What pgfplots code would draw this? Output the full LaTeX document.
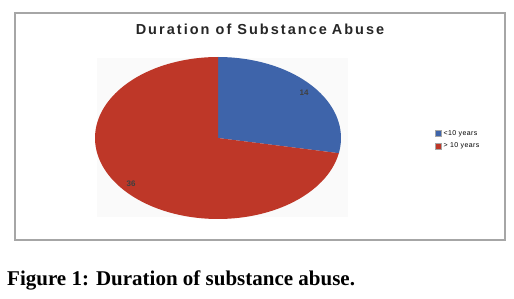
\documentclass[border=0pt]{standalone}
\usepackage{pgfplots}
\pgfplotsset{compat=1.18}
\usepackage{fontspec}
\setmainfont{Liberation Serif}
\newfontfamily\arialf{Liberation Sans}
\newfontfamily\titlef[LetterSpace=14]{Liberation Sans}
\newfontfamily\legf[LetterSpace=6]{Liberation Sans}
\definecolor{pieblue}{HTML}{3E64AA}
\definecolor{piered}{HTML}{BE3728}
\def\va{14}
\def\vb{36}
\pgfmathsetmacro{\tot}{\va+\vb}
\pgfmathsetmacro{\aend}{90-360*\va/\tot}
\pgfmathsetmacro{\bend}{\aend-360*\vb/\tot}
\def\cx{218}\def\cy{138}\def\rx{123}\def\ry{81}
\begin{document}
\begin{tikzpicture}[x=1pt,y=1pt]
\begin{axis}[
  width=514pt, height=299pt, scale only axis,
  xmin=0, xmax=514, ymin=0, ymax=299, y dir=reverse,
  hide axis, clip=false,
  legend style={at={(axis cs:434,127)}, anchor=north west, draw=none, fill=none,
    font=\legf\fontsize{7}{8}\selectfont, row sep=2pt,
    inner sep=1pt},
  legend cell align=left,
  legend image code/.code={\draw[#1, draw=white!65!black] (0pt,-3pt) rectangle (6pt,3pt);},
]
% frame
\draw[gray!70, line width=1.4pt] (axis cs:15,13) rectangle (axis cs:505,240);
% faint plot area
\fill[gray!4] (axis cs:97,58) rectangle (axis cs:348,217);
\addplot[fill=pieblue, draw=none, domain=90:\aend, samples=60]
  ({\cx+\rx*cos(x)},{\cy-\ry*sin(x)}) -- (axis cs:\cx,\cy) -- cycle;
\addlegendentry{<10 years}
\addplot[fill=piered, draw=none, domain=\aend:\bend, samples=120]
  ({\cx+\rx*cos(x)},{\cy-\ry*sin(x)}) -- (axis cs:\cx,\cy) -- cycle;
\addlegendentry{> 10 years}
\node[font=\arialf\bfseries\fontsize{8}{9}\selectfont, text=black!75] at (axis cs:304,93) {\va};
\node[font=\arialf\bfseries\fontsize{8}{9}\selectfont, text=black!75] at (axis cs:131,184) {\vb};
\node[font=\titlef\bfseries\fontsize{14.5}{16}\selectfont, text=black!85] at (axis cs:260,29) {Duration of Substance\,\,Abuse};
\node[font=\bfseries\fontsize{21}{23}\selectfont, anchor=base west, inner sep=0pt] at (axis cs:7,285) {Figure 1: Duration of substance abuse.};
\end{axis}
\pgfresetboundingbox
\path (current axis.south west) rectangle (current axis.north east);
\end{tikzpicture}
\end{document}
